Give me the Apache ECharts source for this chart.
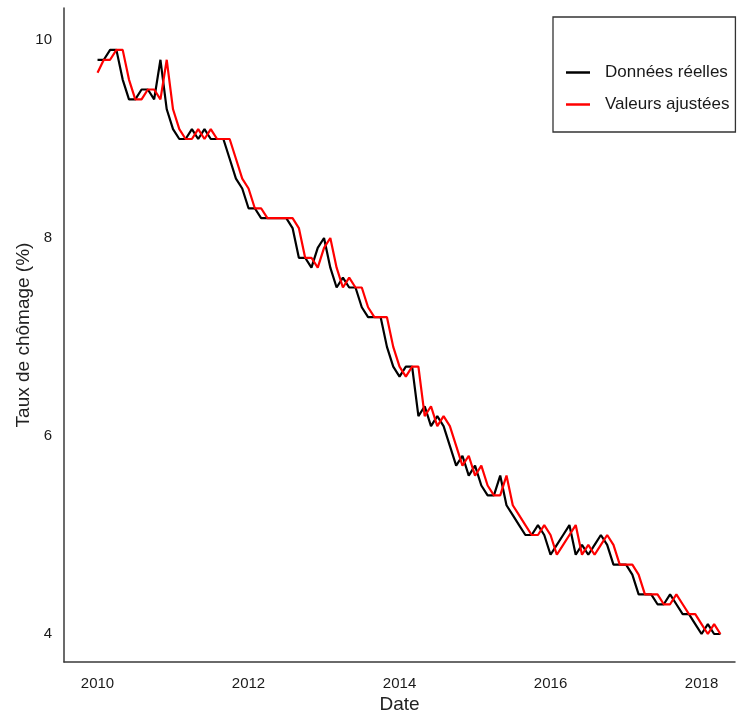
<!DOCTYPE html>
<html>
<head>
<meta charset="utf-8">
<script src="https://cdn.jsdelivr.net/npm/echarts@6/dist/echarts.min.js"></script>
<style>
  html, body { margin: 0; padding: 0; background: #ffffff; }
  #chart { width: 739px; height: 715px; }
</style>
</head>
<body>
<div id="chart"></div>
<script>
// Monthly unemployment rate (%), January 2010 to April 2018
const startYear = 2010;
const yearTicks = [2010, 2012, 2014, 2016, 2018];
const rateTicks = [4, 6, 8, 10];

const actualRate = [
  9.8, 9.8, 9.9, 9.9, 9.6, 9.4, 9.4, 9.5, 9.5, 9.4, 9.8, 9.3,   // 2010
  9.1, 9.0, 9.0, 9.1, 9.0, 9.1, 9.0, 9.0, 9.0, 8.8, 8.6, 8.5,   // 2011
  8.3, 8.3, 8.2, 8.2, 8.2, 8.2, 8.2, 8.1, 7.8, 7.8, 7.7, 7.9,   // 2012
  8.0, 7.7, 7.5, 7.6, 7.5, 7.5, 7.3, 7.2, 7.2, 7.2, 6.9, 6.7,   // 2013
  6.6, 6.7, 6.7, 6.2, 6.3, 6.1, 6.2, 6.1, 5.9, 5.7, 5.8, 5.6,   // 2014
  5.7, 5.5, 5.4, 5.4, 5.6, 5.3, 5.2, 5.1, 5.0, 5.0, 5.1, 5.0,   // 2015
  4.8, 4.9, 5.0, 5.1, 4.8, 4.9, 4.8, 4.9, 5.0, 4.9, 4.7, 4.7,   // 2016
  4.7, 4.6, 4.4, 4.4, 4.4, 4.3, 4.3, 4.4, 4.3, 4.2, 4.2, 4.1,   // 2017
  4.0, 4.1, 4.0, 4.0                                            // 2018
];

const fittedRate = [
  9.67, 9.8, 9.8, 9.9, 9.9, 9.6, 9.4, 9.4, 9.5, 9.5, 9.4, 9.8,  // 2010
  9.3, 9.1, 9.0, 9.0, 9.1, 9.0, 9.1, 9.0, 9.0, 9.0, 8.8, 8.6,   // 2011
  8.5, 8.3, 8.3, 8.2, 8.2, 8.2, 8.2, 8.2, 8.1, 7.8, 7.8, 7.7,   // 2012
  7.9, 8.0, 7.7, 7.5, 7.6, 7.5, 7.5, 7.3, 7.2, 7.2, 7.2, 6.9,   // 2013
  6.7, 6.6, 6.7, 6.7, 6.2, 6.3, 6.1, 6.2, 6.1, 5.9, 5.7, 5.8,   // 2014
  5.6, 5.7, 5.5, 5.4, 5.4, 5.6, 5.3, 5.2, 5.1, 5.0, 5.0, 5.1,   // 2015
  5.0, 4.8, 4.9, 5.0, 5.1, 4.8, 4.9, 4.8, 4.9, 5.0, 4.9, 4.7,   // 2016
  4.7, 4.7, 4.6, 4.4, 4.4, 4.4, 4.3, 4.3, 4.4, 4.3, 4.2, 4.2,   // 2017
  4.1, 4.0, 4.1, 4.0                                            // 2018
];

// month index -> fractional year on the date axis
const toYear = i => startYear + i / 12;
const asPoints = arr => arr.map((v, i) => [toYear(i), v]);

const FONT = '"Liberation Sans", Arial, sans-serif';

const chart = echarts.init(document.getElementById('chart'), null, { renderer: 'canvas' });

chart.setOption({
  backgroundColor: '#ffffff',
  animation: false,
  grid: {
    left: 64, right: 4, top: 8, bottom: 53,
    containLabel: false,
    outerBoundsMode: 'none'
  },
  legend: {
    orient: 'vertical',
    left: 553,
    top: 17,
    padding: [47, 6, 19, 13],
    icon: 'rect',
    itemWidth: 24,
    itemHeight: 2.5,
    itemGap: 15,
    borderColor: '#333333',
    borderWidth: 1.3,
    textStyle: {
      fontFamily: FONT, fontSize: 17, color: '#1a1a1a',
      lineHeight: 16, padding: [0, 0, 0, 10]
    },
    data: ['Données réelles', 'Valeurs ajustées']
  },
  xAxis: {
    type: 'value',
    min: 2009.556,
    max: 2018.443,
    name: 'Date',
    nameLocation: 'middle',
    nameGap: 33,
    nameMoveOverlap: false,
    nameTextStyle: { fontFamily: FONT, fontSize: 19, color: '#222222' },
    axisLine: { show: true, onZero: false, lineStyle: { color: '#3a3a3a', width: 1.5 } },
    axisTick: { show: false },
    splitLine: { show: false },
    axisLabel: {
      customValues: yearTicks,
      margin: 14,
      fontFamily: FONT,
      fontSize: 15,
      color: '#1a1a1a',
      formatter: v => String(Math.round(v))
    }
  },
  yAxis: {
    type: 'value',
    min: 3.717,
    max: 10.323,
    name: 'Taux de chômage (%)',
    nameLocation: 'middle',
    nameGap: 31,
    nameRotate: 90,
    nameMoveOverlap: false,
    nameTextStyle: { fontFamily: FONT, fontSize: 19, color: '#222222' },
    axisLine: { show: true, onZero: false, lineStyle: { color: '#3a3a3a', width: 1.5 } },
    axisTick: { show: false },
    splitLine: { show: false },
    axisLabel: {
      customValues: rateTicks,
      margin: 12,
      fontFamily: FONT,
      fontSize: 15,
      color: '#1a1a1a',
      formatter: v => String(Math.round(v))
    }
  },
  series: [
    {
      name: 'Données réelles',
      type: 'line',
      data: asPoints(actualRate),
      symbol: 'none',
      lineStyle: { color: '#000000', width: 2.2 },
      itemStyle: { color: '#000000' }
    },
    {
      name: 'Valeurs ajustées',
      type: 'line',
      data: asPoints(fittedRate),
      symbol: 'none',
      lineStyle: { color: '#ff0000', width: 2.2 },
      itemStyle: { color: '#ff0000' }
    }
  ]
});
</script>
</body>
</html>
